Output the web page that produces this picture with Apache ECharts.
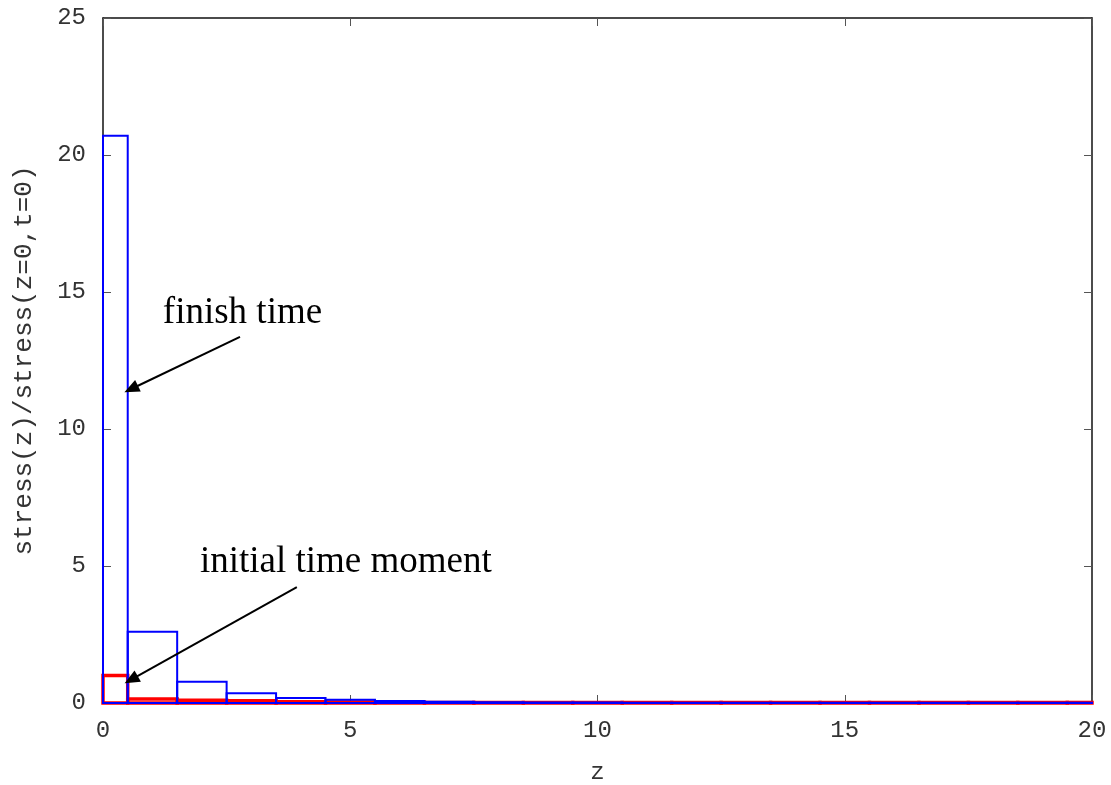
<!DOCTYPE html>
<html><head><meta charset="utf-8">
<script src="https://cdn.jsdelivr.net/npm/echarts@6/dist/echarts.min.js"></script>
<style>html,body{margin:0;padding:0;background:#fff}#c{width:1111px;height:785px}</style>
</head><body><div id="c"></div>
<script>
// bin centres (z), box width 1
const zCenters = [0,1,2,3,4,5,6,7,8,9,10,11,12,13,14,15,16,17,18,19,20];
// finish time (blue)
const finishValues = [20.7,2.6,0.78,0.36,0.18,0.12,0.07,0.05,0.03,0.02,0.02,0.01,0.01,0.01,0.01,0.01,0.01,0.01,0.01,0.01,0.01];
// initial time moment (red)
const initialValues = [1.0,0.15,0.1,0.08,0.05,0.04,0.03,0.02,0.02,0.02,0.02,0.02,0.02,0.02,0.02,0.02,0.02,0.02,0.02,0.02,0.02];
const xTicks = [0,5,10,15,20];
const yTicks = [0,5,10,15,20,25];
// annotations (data coordinates)
const labels = [
  {text:'finish time', at:[1.21,14.23]},
  {text:'initial time moment', at:[1.96,5.15]}
];
const arrows = [
  {from:[2.77,13.36], to:[0.57,11.46]},
  {from:[3.92,4.23], to:[0.57,0.85]}
];

const mono = '"Liberation Mono", "DejaVu Sans Mono", monospace';
function boxes(color, width){
  return function(params, api){
    const z = api.value(0), v = api.value(1);
    const p0 = api.coord([z-0.5, v]);
    const p1 = api.coord([z+0.5, 0]);
    const cs = params.coordSys;
    const r = echarts.graphic.clipRectByRect(
      {x:p0[0], y:p0[1], width:p1[0]-p0[0], height:p1[1]-p0[1]},
      {x:cs.x, y:cs.y, width:cs.width, height:cs.height});
    if(!r) return null;
    return {type:'rect', shape:r, style:{fill:'none', stroke:color, lineWidth:width}};
  };
}
const chart = echarts.init(document.getElementById('c'), null, {renderer:'canvas'});
const tickStyle = {show:true, inside:true, length:8, lineStyle:{color:'#555', width:1}};
chart.setOption({
  animation:false,
  backgroundColor:'#fff',
  grid:{left:103, right:19, top:18, bottom:82, show:false, containLabel:false, outerBoundsMode:'none'},
  xAxis:[{
    type:'value', min:xTicks[0], max:xTicks[xTicks.length-1], interval:5,
    position:'bottom',
    name:'z', nameLocation:'middle', nameGap:58,
    nameTextStyle:{fontFamily:mono, fontSize:24, color:'#333'},
    axisLine:{show:true, onZero:false, lineStyle:{color:'#111', width:1.5}},
    axisTick:tickStyle,
    axisLabel:{fontFamily:mono, fontSize:24, color:'#333', margin:16},
    splitLine:{show:false}
  },{
    type:'value', min:0, max:20, interval:5, position:'top',
    axisLine:{show:true, onZero:false, lineStyle:{color:'#111', width:1.5}},
    axisTick:tickStyle, axisLabel:{show:false}, splitLine:{show:false}
  }],
  yAxis:[{
    type:'value', min:yTicks[0], max:yTicks[yTicks.length-1], interval:5,
    position:'left',
    name:'stress(z)/stress(z=0,t=0)', nameLocation:'middle', nameGap:66,
    nameTextStyle:{fontFamily:mono, fontSize:26, color:'#333'},
    axisLine:{show:true, onZero:false, lineStyle:{color:'#111', width:1.5}},
    axisTick:tickStyle,
    axisLabel:{fontFamily:mono, fontSize:24, color:'#333', margin:17},
    splitLine:{show:false}
  },{
    type:'value', min:0, max:25, interval:5, position:'right',
    axisLine:{show:true, onZero:false, lineStyle:{color:'#111', width:1.5}},
    axisTick:tickStyle, axisLabel:{show:false}, splitLine:{show:false}
  }],
  series:[
    {type:'custom', name:'initial', renderItem:boxes('#ff0000',3.5),
     data:zCenters.map((z,i)=>[z, initialValues[i]]), z:2},
    {type:'custom', name:'finish', renderItem:boxes('#0000ff',2),
     data:zCenters.map((z,i)=>[z, finishValues[i]]), z:3},
    {type:'scatter', name:'annot', data:[], z:5, silent:true,
     markLine:{silent:true, symbol:['none','triangle'], symbolSize:[13,15], animation:false,
       label:{show:false}, lineStyle:{color:'#000', width:2, type:'solid'},
       itemStyle:{color:'#000'},
       emphasis:{disabled:true},
       data:arrows.map(a=>[{coord:a.from},{coord:a.to}])},
     markPoint:{silent:true, symbol:'circle', symbolSize:0, animation:false,
       label:{show:true, position:'right', distance:0, color:'#000',
         fontFamily:'"Liberation Serif", "Times New Roman", serif', fontSize:37,
         formatter:p=>p.name},
       data:labels.map(l=>({name:l.text, coord:l.at}))}
    }
  ]
});
</script></body></html>
